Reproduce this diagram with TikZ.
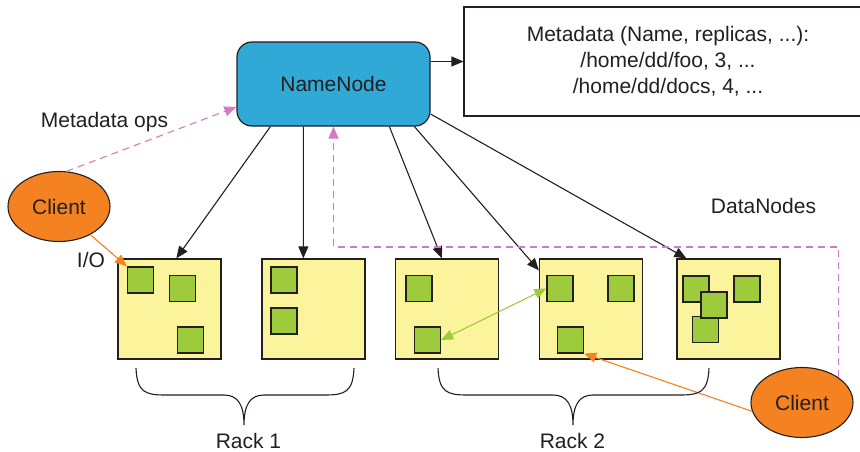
\documentclass[tikz,border=0pt]{standalone}
\usepackage{fontspec}
\setmainfont{Liberation Sans}
\usetikzlibrary{arrows.meta,shapes.geometric}
\definecolor{ink}{HTML}{231F20}
\definecolor{nnblue}{HTML}{31A9D6}
\definecolor{dnyellow}{HTML}{FBF49C}
\definecolor{blkgreen}{HTML}{9DCB3B}
\definecolor{cliorange}{HTML}{F58220}
\definecolor{opspink}{HTML}{D27CBF}
\tikzset{
  lbl/.style={font=\fontsize{21pt}{26pt}\selectfont, text=ink, inner sep=0pt},
  namebox/.style={lbl, draw=ink, line width=1.2pt, fill=nnblue, rounded corners=15pt,
     minimum width=193pt, minimum height=84pt},
  metabox/.style={lbl, draw=ink, line width=1.1pt, fill=white, align=center,
     minimum width=408pt, minimum height=109pt},
  dnbox/.style={draw=ink, line width=1.3pt, fill=dnyellow, minimum width=103pt, minimum height=100pt, inner sep=0pt},
  blk/.style={draw=ink, line width=1.3pt, fill=blkgreen, minimum size=26pt, inner sep=0pt},
  cli/.style={lbl, ellipse, draw=ink, line width=1.1pt, fill=cliorange, minimum width=102pt, minimum height=70pt},
  arr/.style={draw=ink, line width=1.1pt, -{Triangle[length=12pt,width=10pt]}},
  opsarr/.style={draw=opspink, line width=1.1pt, dash pattern=on 7pt off 5pt, -{Triangle[length=12pt,width=10pt]}},
  ioarr/.style={draw=cliorange, line width=1.1pt, -{Triangle[length=12pt,width=10pt]}},
  reparr/.style={draw=blkgreen, line width=1.1pt, {Triangle[length=12pt,width=10pt]}-{Triangle[length=12pt,width=10pt]}},
  rackbrace/.style={draw=ink, line width=1.1pt}
}
\begin{document}
\begin{tikzpicture}[x=1pt,y=-1pt]
\clip (0,0) rectangle (860,452);
\fill[white] (0,0) rectangle (860,452);

% NameNode and metadata
\node[namebox] (nn) at (333.5,84) {NameNode};
\node[metabox] (meta) at (668,61.5) {Metadata (Name, replicas, ...):\\/home/dd/foo, 3, ...\\/home/dd/docs, 4, ...};
\draw[arr] (meta.west -| nn.east) -- (meta.west);

% DataNodes
\node[dnbox] (box1) at (169.5,309) {};
\node[dnbox] (box2) at (313.5,309) {};
\node[dnbox] (box3) at (447,309) {};
\node[dnbox] (box4) at (591,309) {};
\node[dnbox] (box5) at (728.5,309) {};

% blocks
\node[blk] (b1a) at (140.5,280) {};
\node[blk] (b1b) at (182.5,288.5) {};
\node[blk] (b1c) at (190.5,340) {};
\node[blk] (b2a) at (284,280) {};
\node[blk] (b2b) at (284,321) {};
\node[blk] (b3a) at (419,288.5) {};
\node[blk] (b3b) at (427.5,340) {};
\node[blk] (b4a) at (560,288.5) {};
\node[blk] (b4b) at (621,288.5) {};
\node[blk] (b4c) at (570.5,340) {};
\node[blk] (b5a) at (696,289) {};
\node[blk] (b5d) at (747,289) {};
\node[blk] (b5c) at (705.5,329.5) {};
\node[blk] (b5b) at (714,305) {};

% clients
\node[cli] (c1) at (59,206.5) {Client};
\node[cli] (c2) at (802,402.5) {Client};

% labels
\node[lbl, anchor=base] (lops) at (104.5,128) {Metadata ops};
\node[lbl, anchor=base] (lio) at (91,267) {I/O};
\node[lbl, anchor=base] (ldn) at (763.5,213) {DataNodes};
\node[lbl, anchor=base] (lr1) at (248.5,448) {Rack 1};
\node[lbl, anchor=base] (lr2) at (572.5,448) {Rack 2};

% NameNode to DataNodes
\draw[arr] ([xshift=34pt]nn.south west) -- ([xshift=59pt]box1.north west);
\draw[arr] ([xshift=67pt]nn.south west) -- ([xshift=42pt]box2.north west);
\draw[arr] ([xshift=153pt]nn.south west) -- ([xshift=47pt]box3.north west);
\draw[arr] ([xshift=178pt]nn.south west) -- ([yshift=-12pt]box4.north west);
\draw[arr] ([yshift=-30pt]nn.east) -- ([xshift=10pt]box5.north west);

% metadata ops
\draw[opsarr] (c1.78) -- ([yshift=-23pt]nn.west);
\coordinate (turn) at (837,247);
\draw[opsarr] (c2.north east) -- (c2.north east |- turn) -| (nn.south);

% I/O
\draw[ioarr] (c1.-42) -- (b1a.north west);
\draw[ioarr] (c2.190) -- (b4c.south east);

% replication
\draw[reparr] (b3b.east) -- (b4a.west);

% racks
\draw[rackbrace] (136,368) .. controls (137,392) and (145,395) .. (165,395) -- (224,395)
  .. controls (238,395) and (244,405) .. (244,425)
  .. controls (244,405) and (250,395) .. (264,395) -- (325,395)
  .. controls (345,395) and (353,392) .. (354,368);
\draw[rackbrace] (438,368) .. controls (439,392) and (447,395) .. (467,395) -- (553,395)
  .. controls (567,395) and (573,405) .. (573,425)
  .. controls (573,405) and (579,395) .. (593,395) -- (680,395)
  .. controls (700,395) and (708,392) .. (709,368);
\end{tikzpicture}
\end{document}
